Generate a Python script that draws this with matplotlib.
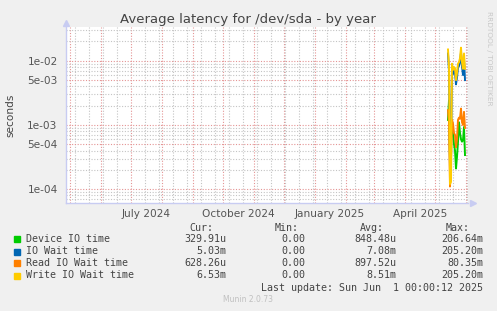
import numpy as np
import matplotlib
matplotlib.use("Agg")
import matplotlib.pyplot as plt
import matplotlib.dates as mdates
from matplotlib.transforms import blended_transform_factory
from datetime import datetime, timedelta

# daily samples, last 18 days before the update
start_day = datetime(2025, 5, 14)
days = [start_day + timedelta(days=i) for i in range(18)]

device_io = [1.2e-3, 2.4e-3, 3.0e-4, 6.0e-4, 1.0e-3, 7.4e-4, 5.0e-4, 4.0e-4, 2.1e-4,
             3.2e-4, 5.5e-4, 1.1e-3, 7.5e-4, 6.0e-4, 5.5e-4, 5.8e-4, 9.3e-4, 3.4e-4]
io_wait = [1.3e-2, 7.0e-3, 2.0e-4, 2.5e-4, 8.0e-3, 6.2e-3, 7.0e-3, 6.5e-3, 4.3e-3,
           5.5e-3, 7.8e-3, 8.3e-3, 9.5e-3, 1.35e-2, 8.2e-3, 6.0e-3, 1.1e-2, 5.0e-3]
read_wait = [1.7e-3, 1.1e-3, 1.1e-4, 3.0e-4, 1.2e-3, 1.05e-3, 7.5e-4, 7.0e-4, 4.5e-4,
             6.0e-4, 1.2e-3, 1.3e-3, 1.25e-3, 1.8e-3, 1.1e-3, 1.0e-3, 1.6e-3, 9.0e-4]
write_wait = [1.5e-2, 8.0e-3, 1.2e-4, 1.3e-4, 9.0e-3, 7.2e-3, 8.0e-3, 7.6e-3, 5.0e-3,
              6.5e-3, 9.0e-3, 9.5e-3, 1.1e-2, 1.6e-2, 9.5e-3, 7.5e-3, 1.3e-2, 7.5e-3]

series_names = ["Device IO time", "IO Wait time", "Read IO Wait time", "Write IO Wait time"]
series_colors = ["#00CC00", "#0066B3", "#FF8000", "#FFCC00"]
cur_vals = ["329.91u", "5.03m", "628.26u", "6.53m"]
min_vals = ["0.00", "0.00", "0.00", "0.00"]
avg_vals = ["848.48u", "7.08m", "897.52u", "8.51m"]
max_vals = ["206.64m", "205.20m", "80.35m", "205.20m"]

y_major = [1e-4, 5e-4, 1e-3, 5e-3, 1e-2]
y_major_labels = ["1e-04", "5e-04", "1e-03", "5e-03", "1e-02"]
x_labels = ["July 2024", "October 2024", "January 2025", "April 2025"]
x_label_dates = [datetime(2024, 7, 16), datetime(2024, 10, 16),
                 datetime(2025, 1, 16), datetime(2025, 4, 16)]

fig = plt.figure(figsize=(4.97, 3.11), dpi=100)
fig.patch.set_facecolor("#F0F0F0")
ax = fig.add_axes([66 / 497, 1 - 202.5 / 311, 402 / 497, 175.5 / 311])
ax.set_facecolor("white")

ax.set_yscale("log")

# grid
ax.set_yticks(y_major)
ax.set_yticklabels(y_major_labels)
minor_y = []
for dec in [1e-5, 1e-4, 1e-3, 1e-2]:
    for m in [2, 3, 4, 6, 7, 8, 9]:
        minor_y.append(m * dec)
ax.set_yticks(minor_y, minor=True)
ax.yaxis.set_minor_formatter(matplotlib.ticker.NullFormatter())

months = [datetime(2024 + (4 + i) // 12, (4 + i) % 12 + 1, 1) for i in range(14)]
ax.set_xticks(mdates.date2num(months))
ax.set_xticklabels([])
weeks = [datetime(2024, 5, 6) + timedelta(days=14 * i) for i in range(29)]
ax.set_xticks(mdates.date2num(weeks), minor=True)

# limits after ticks, set_ticks widens the view
ax.set_ylim(6.2e-5, 3.36e-2)
ax.set_xlim(mdates.date2num(datetime(2024, 4, 27)), mdates.date2num(datetime(2025, 6, 3)))

ax.grid(which="minor", color="#C4C4C4", linestyle=(0, (1, 1.5)), linewidth=0.8)
ax.grid(which="major", color="#E49494", linestyle=(0, (1, 1.5)), linewidth=0.8)
ax.set_axisbelow(True)
ax.tick_params(which="both", length=0, labelsize=7.6, labelcolor="#555555", pad=6)

trans = blended_transform_factory(ax.transData, ax.transAxes)
for lab, d in zip(x_labels, x_label_dates):
    ax.text(mdates.date2num(d), -0.035, lab, transform=trans, ha="center", va="top",
            fontsize=7.6, color="#555555")

for s in ["top", "right"]:
    ax.spines[s].set_visible(False)
for s in ["left", "bottom"]:
    ax.spines[s].set_color("#C8CCF2")
    ax.spines[s].set_linewidth(1.0)
ax.plot([1.012], [0], marker=">", color="#C8CCF2", markersize=5, transform=ax.transAxes, clip_on=False)
ax.plot([0], [1.02], marker="^", color="#C8CCF2", markersize=5, transform=ax.transAxes, clip_on=False)

for vals, col in zip([device_io, io_wait, read_wait, write_wait], series_colors):
    ax.plot(mdates.date2num(days), vals, color=col, linewidth=1.4)

fig.text(248 / 497, 1 - 19 / 311, "Average latency for /dev/sda - by year", ha="center", va="center",
         fontsize=9.5, color="#444444")
fig.text(10 / 497, 1 - 115 / 311, "seconds", rotation=90, ha="center", va="center",
         fontsize=7.6, color="#444444")
fig.text(489 / 497, 1 - 58 / 311, "RRDTOOL / TOBI OETIKER", rotation=270, ha="center", va="center",
         fontsize=5.3, color="#C8C8C8")

mono = dict(family="DejaVu Sans Mono", fontsize=7.2, color="#444444", va="center")
hy = 1 - 227.7 / 311
fig.text(213.3 / 497, hy, "Cur:", ha="right", **mono)
fig.text(299 / 497, hy, "Min:", ha="right", **mono)
fig.text(384 / 497, hy, "Avg:", ha="right", **mono)
fig.text(470 / 497, hy, "Max:", ha="right", **mono)

row_y = [239.3, 251.5, 263.3, 275.5]
for i in range(4):
    yy = 1 - row_y[i] / 311
    fig.patches.append(matplotlib.patches.Rectangle((14 / 497, yy - 3 / 311), 6 / 497, 6 / 311,
                                                    transform=fig.transFigure, color=series_colors[i]))
    fig.text(26 / 497, yy, series_names[i], ha="left", **mono)
    fig.text(226 / 497, yy, cur_vals[i], ha="right", **mono)
    fig.text(305.7 / 497, yy, min_vals[i], ha="right", **mono)
    fig.text(396.7 / 497, yy, avg_vals[i], ha="right", **mono)
    fig.text(483.3 / 497, yy, max_vals[i], ha="right", **mono)

fig.text(483 / 497, 1 - 287.7 / 311, "Last update: Sun Jun  1 00:00:12 2025", ha="right", **mono)
fig.text(248 / 497, 1 - 300 / 311, "Munin 2.0.73", ha="center", va="center", fontsize=5.5, color="#C0C0C0")

fig.savefig("out.png", dpi=100, facecolor=fig.get_facecolor())
